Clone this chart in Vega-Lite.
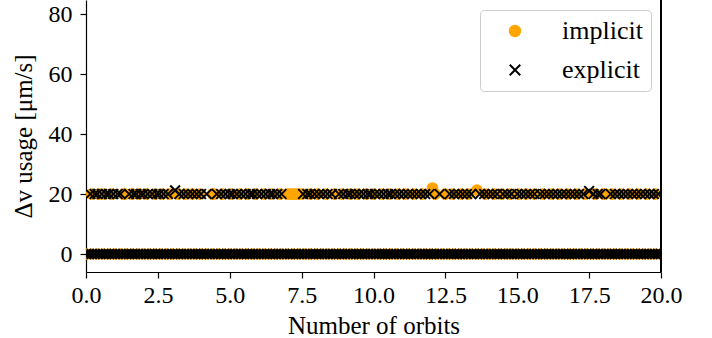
{
"$schema":"https://vega.github.io/schema/vega-lite/v6.json",
"width":575,"height":272,
"autosize":{"type":"none"},
"padding":{"left":86,"top":0,"right":51,"bottom":66},
"background":"white",
"config":{
"view":{"stroke":null},
"font":"Liberation Serif",
"axis":{"grid":false,"domainColor":"#000","domainWidth":1.2,"tickColor":"#000","tickWidth":1.2,"tickSize":6,"labelFont":"Liberation Serif","labelFontSize":24,"labelColor":"#000","titleFont":"Liberation Serif","titleFontSize":25,"titleFontWeight":"normal","titleColor":"#000","labelFlush":false,"labelOverlap":false},
"legend":{"orient":"top-right","offset":10,"padding":8,"strokeColor":"#cccccc","fillColor":"rgba(255,255,255,0.8)","cornerRadius":4,"labelFont":"Liberation Serif","labelFontSize":26,"labelColor":"#000","labelOffset":34,"symbolSize":110,"symbolStrokeWidth":2,"rowPadding":13,"symbolOffset":14,"title":null}
},
"data":{"values":[
{"x":0,"y":0,"s":"implicit"},{"x":0.2,"y":0,"s":"implicit"},{"x":0.4,"y":0,"s":"implicit"},{"x":0.6,"y":0,"s":"implicit"},{"x":0.8,"y":0,"s":"implicit"},{"x":1,"y":0,"s":"implicit"},{"x":1.2,"y":0,"s":"implicit"},{"x":1.4,"y":0,"s":"implicit"},{"x":1.6,"y":0,"s":"implicit"},{"x":1.8,"y":0,"s":"implicit"},
{"x":2,"y":0,"s":"implicit"},{"x":2.2,"y":0,"s":"implicit"},{"x":2.4,"y":0,"s":"implicit"},{"x":2.6,"y":0,"s":"implicit"},{"x":2.8,"y":0,"s":"implicit"},{"x":3,"y":0,"s":"implicit"},{"x":3.2,"y":0,"s":"implicit"},{"x":3.4,"y":0,"s":"implicit"},{"x":3.6,"y":0,"s":"implicit"},{"x":3.8,"y":0,"s":"implicit"},
{"x":4,"y":0,"s":"implicit"},{"x":4.2,"y":0,"s":"implicit"},{"x":4.4,"y":0,"s":"implicit"},{"x":4.6,"y":0,"s":"implicit"},{"x":4.8,"y":0,"s":"implicit"},{"x":5,"y":0,"s":"implicit"},{"x":5.2,"y":0,"s":"implicit"},{"x":5.4,"y":0,"s":"implicit"},{"x":5.6,"y":0,"s":"implicit"},{"x":5.8,"y":0,"s":"implicit"},
{"x":6,"y":0,"s":"implicit"},{"x":6.2,"y":0,"s":"implicit"},{"x":6.4,"y":0,"s":"implicit"},{"x":6.6,"y":0,"s":"implicit"},{"x":6.8,"y":0,"s":"implicit"},{"x":7,"y":0,"s":"implicit"},{"x":7.2,"y":0,"s":"implicit"},{"x":7.4,"y":0,"s":"implicit"},{"x":7.6,"y":0,"s":"implicit"},{"x":7.8,"y":0,"s":"implicit"},
{"x":8,"y":0,"s":"implicit"},{"x":8.2,"y":0,"s":"implicit"},{"x":8.4,"y":0,"s":"implicit"},{"x":8.6,"y":0,"s":"implicit"},{"x":8.8,"y":0,"s":"implicit"},{"x":9,"y":0,"s":"implicit"},{"x":9.2,"y":0,"s":"implicit"},{"x":9.4,"y":0,"s":"implicit"},{"x":9.6,"y":0,"s":"implicit"},{"x":9.8,"y":0,"s":"implicit"},
{"x":10,"y":0,"s":"implicit"},{"x":10.2,"y":0,"s":"implicit"},{"x":10.4,"y":0,"s":"implicit"},{"x":10.6,"y":0,"s":"implicit"},{"x":10.8,"y":0,"s":"implicit"},{"x":11,"y":0,"s":"implicit"},{"x":11.2,"y":0,"s":"implicit"},{"x":11.4,"y":0,"s":"implicit"},{"x":11.6,"y":0,"s":"implicit"},{"x":11.8,"y":0,"s":"implicit"},
{"x":12,"y":0,"s":"implicit"},{"x":12.2,"y":0,"s":"implicit"},{"x":12.4,"y":0,"s":"implicit"},{"x":12.6,"y":0,"s":"implicit"},{"x":12.8,"y":0,"s":"implicit"},{"x":13,"y":0,"s":"implicit"},{"x":13.2,"y":0,"s":"implicit"},{"x":13.4,"y":0,"s":"implicit"},{"x":13.6,"y":0,"s":"implicit"},{"x":13.8,"y":0,"s":"implicit"},
{"x":14,"y":0,"s":"implicit"},{"x":14.2,"y":0,"s":"implicit"},{"x":14.4,"y":0,"s":"implicit"},{"x":14.6,"y":0,"s":"implicit"},{"x":14.8,"y":0,"s":"implicit"},{"x":15,"y":0,"s":"implicit"},{"x":15.2,"y":0,"s":"implicit"},{"x":15.4,"y":0,"s":"implicit"},{"x":15.6,"y":0,"s":"implicit"},{"x":15.8,"y":0,"s":"implicit"},
{"x":16,"y":0,"s":"implicit"},{"x":16.2,"y":0,"s":"implicit"},{"x":16.4,"y":0,"s":"implicit"},{"x":16.6,"y":0,"s":"implicit"},{"x":16.8,"y":0,"s":"implicit"},{"x":17,"y":0,"s":"implicit"},{"x":17.2,"y":0,"s":"implicit"},{"x":17.4,"y":0,"s":"implicit"},{"x":17.6,"y":0,"s":"implicit"},{"x":17.8,"y":0,"s":"implicit"},
{"x":18,"y":0,"s":"implicit"},{"x":18.2,"y":0,"s":"implicit"},{"x":18.4,"y":0,"s":"implicit"},{"x":18.6,"y":0,"s":"implicit"},{"x":18.8,"y":0,"s":"implicit"},{"x":19,"y":0,"s":"implicit"},{"x":19.2,"y":0,"s":"implicit"},{"x":19.4,"y":0,"s":"implicit"},{"x":19.6,"y":0,"s":"implicit"},{"x":19.8,"y":0,"s":"implicit"},{"x":20,"y":0,"s":"implicit"},
{"x":0.2,"y":20,"s":"implicit"},{"x":0.45,"y":20,"s":"implicit"},{"x":0.65,"y":20,"s":"implicit"},{"x":0.9,"y":20,"s":"implicit"},{"x":1.3,"y":20,"s":"implicit"},{"x":1.35,"y":20,"s":"implicit"},{"x":1.6,"y":20,"s":"implicit"},{"x":1.85,"y":20,"s":"implicit"},{"x":2.1,"y":20,"s":"implicit"},{"x":2.4,"y":20,"s":"implicit"},
{"x":2.65,"y":20,"s":"implicit"},{"x":2.9,"y":20,"s":"implicit"},{"x":3.2,"y":20,"s":"implicit"},{"x":3.45,"y":20,"s":"implicit"},{"x":3.7,"y":20,"s":"implicit"},{"x":3.95,"y":20,"s":"implicit"},{"x":4.4,"y":20,"s":"implicit"},{"x":4.45,"y":20,"s":"implicit"},{"x":4.75,"y":20,"s":"implicit"},{"x":5.05,"y":20,"s":"implicit"},
{"x":5.35,"y":20,"s":"implicit"},{"x":5.6,"y":20,"s":"implicit"},{"x":5.9,"y":20,"s":"implicit"},{"x":6.2,"y":20,"s":"implicit"},{"x":6.45,"y":20,"s":"implicit"},{"x":6.75,"y":20,"s":"implicit"},{"x":7.0,"y":20,"s":"implicit"},{"x":7.1,"y":20,"s":"implicit"},{"x":7.2,"y":20,"s":"implicit"},{"x":7.3,"y":20,"s":"implicit"},
{"x":7.4,"y":20,"s":"implicit"},{"x":7.5,"y":20,"s":"implicit"},{"x":7.8,"y":20,"s":"implicit"},{"x":8.05,"y":20,"s":"implicit"},{"x":8.35,"y":20,"s":"implicit"},{"x":8.65,"y":20,"s":"implicit"},{"x":8.9,"y":20,"s":"implicit"},{"x":9.2,"y":20,"s":"implicit"},{"x":9.45,"y":20,"s":"implicit"},{"x":9.75,"y":20,"s":"implicit"},
{"x":10.0,"y":20,"s":"implicit"},{"x":10.3,"y":20,"s":"implicit"},{"x":10.55,"y":20,"s":"implicit"},{"x":10.85,"y":20,"s":"implicit"},{"x":11.1,"y":20,"s":"implicit"},{"x":11.4,"y":20,"s":"implicit"},{"x":11.7,"y":20,"s":"implicit"},{"x":12.05,"y":22,"s":"implicit"},{"x":12.15,"y":20,"s":"implicit"},{"x":12.5,"y":20,"s":"implicit"},
{"x":12.75,"y":20,"s":"implicit"},{"x":13.05,"y":20,"s":"implicit"},{"x":13.3,"y":20,"s":"implicit"},{"x":13.6,"y":21.3,"s":"implicit"},{"x":13.9,"y":20,"s":"implicit"},{"x":14.2,"y":20,"s":"implicit"},{"x":14.45,"y":20,"s":"implicit"},{"x":14.75,"y":20,"s":"implicit"},{"x":15.05,"y":20,"s":"implicit"},{"x":15.3,"y":20,"s":"implicit"},
{"x":15.6,"y":20,"s":"implicit"},{"x":15.9,"y":20,"s":"implicit"},{"x":16.2,"y":20,"s":"implicit"},{"x":16.45,"y":20,"s":"implicit"},{"x":16.75,"y":20,"s":"implicit"},{"x":17.05,"y":20,"s":"implicit"},{"x":17.35,"y":20,"s":"implicit"},{"x":17.7,"y":20,"s":"implicit"},{"x":18.0,"y":20,"s":"implicit"},{"x":18.05,"y":20,"s":"implicit"},
{"x":18.3,"y":20,"s":"implicit"},{"x":18.6,"y":20,"s":"implicit"},{"x":18.9,"y":20,"s":"implicit"},{"x":19.2,"y":20,"s":"implicit"},{"x":19.5,"y":20,"s":"implicit"},{"x":19.8,"y":20,"s":"implicit"},
{"x":0,"y":0,"s":"explicit"},{"x":0.1,"y":0,"s":"explicit"},{"x":0.2,"y":0,"s":"explicit"},{"x":0.3,"y":0,"s":"explicit"},{"x":0.4,"y":0,"s":"explicit"},{"x":0.5,"y":0,"s":"explicit"},{"x":0.6,"y":0,"s":"explicit"},{"x":0.7,"y":0,"s":"explicit"},{"x":0.8,"y":0,"s":"explicit"},{"x":0.9,"y":0,"s":"explicit"},
{"x":1,"y":0,"s":"explicit"},{"x":1.1,"y":0,"s":"explicit"},{"x":1.2,"y":0,"s":"explicit"},{"x":1.3,"y":0,"s":"explicit"},{"x":1.4,"y":0,"s":"explicit"},{"x":1.5,"y":0,"s":"explicit"},{"x":1.6,"y":0,"s":"explicit"},{"x":1.7,"y":0,"s":"explicit"},{"x":1.8,"y":0,"s":"explicit"},{"x":1.9,"y":0,"s":"explicit"},
{"x":2,"y":0,"s":"explicit"},{"x":2.1,"y":0,"s":"explicit"},{"x":2.2,"y":0,"s":"explicit"},{"x":2.3,"y":0,"s":"explicit"},{"x":2.4,"y":0,"s":"explicit"},{"x":2.5,"y":0,"s":"explicit"},{"x":2.6,"y":0,"s":"explicit"},{"x":2.7,"y":0,"s":"explicit"},{"x":2.8,"y":0,"s":"explicit"},{"x":2.9,"y":0,"s":"explicit"},
{"x":3,"y":0,"s":"explicit"},{"x":3.1,"y":0,"s":"explicit"},{"x":3.2,"y":0,"s":"explicit"},{"x":3.3,"y":0,"s":"explicit"},{"x":3.4,"y":0,"s":"explicit"},{"x":3.5,"y":0,"s":"explicit"},{"x":3.6,"y":0,"s":"explicit"},{"x":3.7,"y":0,"s":"explicit"},{"x":3.8,"y":0,"s":"explicit"},{"x":3.9,"y":0,"s":"explicit"},
{"x":4,"y":0,"s":"explicit"},{"x":4.1,"y":0,"s":"explicit"},{"x":4.2,"y":0,"s":"explicit"},{"x":4.3,"y":0,"s":"explicit"},{"x":4.4,"y":0,"s":"explicit"},{"x":4.5,"y":0,"s":"explicit"},{"x":4.6,"y":0,"s":"explicit"},{"x":4.7,"y":0,"s":"explicit"},{"x":4.8,"y":0,"s":"explicit"},{"x":4.9,"y":0,"s":"explicit"},
{"x":5,"y":0,"s":"explicit"},{"x":5.1,"y":0,"s":"explicit"},{"x":5.2,"y":0,"s":"explicit"},{"x":5.3,"y":0,"s":"explicit"},{"x":5.4,"y":0,"s":"explicit"},{"x":5.5,"y":0,"s":"explicit"},{"x":5.6,"y":0,"s":"explicit"},{"x":5.7,"y":0,"s":"explicit"},{"x":5.8,"y":0,"s":"explicit"},{"x":5.9,"y":0,"s":"explicit"},
{"x":6,"y":0,"s":"explicit"},{"x":6.1,"y":0,"s":"explicit"},{"x":6.2,"y":0,"s":"explicit"},{"x":6.3,"y":0,"s":"explicit"},{"x":6.4,"y":0,"s":"explicit"},{"x":6.5,"y":0,"s":"explicit"},{"x":6.6,"y":0,"s":"explicit"},{"x":6.7,"y":0,"s":"explicit"},{"x":6.8,"y":0,"s":"explicit"},{"x":6.9,"y":0,"s":"explicit"},
{"x":7,"y":0,"s":"explicit"},{"x":7.1,"y":0,"s":"explicit"},{"x":7.2,"y":0,"s":"explicit"},{"x":7.3,"y":0,"s":"explicit"},{"x":7.4,"y":0,"s":"explicit"},{"x":7.5,"y":0,"s":"explicit"},{"x":7.6,"y":0,"s":"explicit"},{"x":7.7,"y":0,"s":"explicit"},{"x":7.8,"y":0,"s":"explicit"},{"x":7.9,"y":0,"s":"explicit"},
{"x":8,"y":0,"s":"explicit"},{"x":8.1,"y":0,"s":"explicit"},{"x":8.2,"y":0,"s":"explicit"},{"x":8.3,"y":0,"s":"explicit"},{"x":8.4,"y":0,"s":"explicit"},{"x":8.5,"y":0,"s":"explicit"},{"x":8.6,"y":0,"s":"explicit"},{"x":8.7,"y":0,"s":"explicit"},{"x":8.8,"y":0,"s":"explicit"},{"x":8.9,"y":0,"s":"explicit"},
{"x":9,"y":0,"s":"explicit"},{"x":9.1,"y":0,"s":"explicit"},{"x":9.2,"y":0,"s":"explicit"},{"x":9.3,"y":0,"s":"explicit"},{"x":9.4,"y":0,"s":"explicit"},{"x":9.5,"y":0,"s":"explicit"},{"x":9.6,"y":0,"s":"explicit"},{"x":9.7,"y":0,"s":"explicit"},{"x":9.8,"y":0,"s":"explicit"},{"x":9.9,"y":0,"s":"explicit"},
{"x":10,"y":0,"s":"explicit"},{"x":10.1,"y":0,"s":"explicit"},{"x":10.2,"y":0,"s":"explicit"},{"x":10.3,"y":0,"s":"explicit"},{"x":10.4,"y":0,"s":"explicit"},{"x":10.5,"y":0,"s":"explicit"},{"x":10.6,"y":0,"s":"explicit"},{"x":10.7,"y":0,"s":"explicit"},{"x":10.8,"y":0,"s":"explicit"},{"x":10.9,"y":0,"s":"explicit"},
{"x":11,"y":0,"s":"explicit"},{"x":11.1,"y":0,"s":"explicit"},{"x":11.2,"y":0,"s":"explicit"},{"x":11.3,"y":0,"s":"explicit"},{"x":11.4,"y":0,"s":"explicit"},{"x":11.5,"y":0,"s":"explicit"},{"x":11.6,"y":0,"s":"explicit"},{"x":11.7,"y":0,"s":"explicit"},{"x":11.8,"y":0,"s":"explicit"},{"x":11.9,"y":0,"s":"explicit"},
{"x":12,"y":0,"s":"explicit"},{"x":12.1,"y":0,"s":"explicit"},{"x":12.2,"y":0,"s":"explicit"},{"x":12.3,"y":0,"s":"explicit"},{"x":12.4,"y":0,"s":"explicit"},{"x":12.5,"y":0,"s":"explicit"},{"x":12.6,"y":0,"s":"explicit"},{"x":12.7,"y":0,"s":"explicit"},{"x":12.8,"y":0,"s":"explicit"},{"x":12.9,"y":0,"s":"explicit"},
{"x":13,"y":0,"s":"explicit"},{"x":13.1,"y":0,"s":"explicit"},{"x":13.2,"y":0,"s":"explicit"},{"x":13.3,"y":0,"s":"explicit"},{"x":13.4,"y":0,"s":"explicit"},{"x":13.5,"y":0,"s":"explicit"},{"x":13.6,"y":0,"s":"explicit"},{"x":13.7,"y":0,"s":"explicit"},{"x":13.8,"y":0,"s":"explicit"},{"x":13.9,"y":0,"s":"explicit"},
{"x":14,"y":0,"s":"explicit"},{"x":14.1,"y":0,"s":"explicit"},{"x":14.2,"y":0,"s":"explicit"},{"x":14.3,"y":0,"s":"explicit"},{"x":14.4,"y":0,"s":"explicit"},{"x":14.5,"y":0,"s":"explicit"},{"x":14.6,"y":0,"s":"explicit"},{"x":14.7,"y":0,"s":"explicit"},{"x":14.8,"y":0,"s":"explicit"},{"x":14.9,"y":0,"s":"explicit"},
{"x":15,"y":0,"s":"explicit"},{"x":15.1,"y":0,"s":"explicit"},{"x":15.2,"y":0,"s":"explicit"},{"x":15.3,"y":0,"s":"explicit"},{"x":15.4,"y":0,"s":"explicit"},{"x":15.5,"y":0,"s":"explicit"},{"x":15.6,"y":0,"s":"explicit"},{"x":15.7,"y":0,"s":"explicit"},{"x":15.8,"y":0,"s":"explicit"},{"x":15.9,"y":0,"s":"explicit"},
{"x":16,"y":0,"s":"explicit"},{"x":16.1,"y":0,"s":"explicit"},{"x":16.2,"y":0,"s":"explicit"},{"x":16.3,"y":0,"s":"explicit"},{"x":16.4,"y":0,"s":"explicit"},{"x":16.5,"y":0,"s":"explicit"},{"x":16.6,"y":0,"s":"explicit"},{"x":16.7,"y":0,"s":"explicit"},{"x":16.8,"y":0,"s":"explicit"},{"x":16.9,"y":0,"s":"explicit"},
{"x":17,"y":0,"s":"explicit"},{"x":17.1,"y":0,"s":"explicit"},{"x":17.2,"y":0,"s":"explicit"},{"x":17.3,"y":0,"s":"explicit"},{"x":17.4,"y":0,"s":"explicit"},{"x":17.5,"y":0,"s":"explicit"},{"x":17.6,"y":0,"s":"explicit"},{"x":17.7,"y":0,"s":"explicit"},{"x":17.8,"y":0,"s":"explicit"},{"x":17.9,"y":0,"s":"explicit"},
{"x":18,"y":0,"s":"explicit"},{"x":18.1,"y":0,"s":"explicit"},{"x":18.2,"y":0,"s":"explicit"},{"x":18.3,"y":0,"s":"explicit"},{"x":18.4,"y":0,"s":"explicit"},{"x":18.5,"y":0,"s":"explicit"},{"x":18.6,"y":0,"s":"explicit"},{"x":18.7,"y":0,"s":"explicit"},{"x":18.8,"y":0,"s":"explicit"},{"x":18.9,"y":0,"s":"explicit"},
{"x":19,"y":0,"s":"explicit"},{"x":19.1,"y":0,"s":"explicit"},{"x":19.2,"y":0,"s":"explicit"},{"x":19.3,"y":0,"s":"explicit"},{"x":19.4,"y":0,"s":"explicit"},{"x":19.5,"y":0,"s":"explicit"},{"x":19.6,"y":0,"s":"explicit"},{"x":19.7,"y":0,"s":"explicit"},{"x":19.8,"y":0,"s":"explicit"},{"x":19.9,"y":0,"s":"explicit"},{"x":20,"y":0,"s":"explicit"},
{"x":0.15,"y":20,"s":"explicit"},{"x":0.3,"y":20,"s":"explicit"},{"x":0.4,"y":20,"s":"explicit"},{"x":0.55,"y":20,"s":"explicit"},{"x":0.7,"y":20,"s":"explicit"},{"x":0.8,"y":20,"s":"explicit"},{"x":0.95,"y":20,"s":"explicit"},{"x":1.1,"y":20,"s":"explicit"},{"x":1.2,"y":20,"s":"explicit"},{"x":1.5,"y":20,"s":"explicit"},
{"x":1.65,"y":20,"s":"explicit"},{"x":1.75,"y":20,"s":"explicit"},{"x":1.9,"y":20,"s":"explicit"},{"x":2.0,"y":20,"s":"explicit"},{"x":2.15,"y":20,"s":"explicit"},{"x":2.3,"y":20,"s":"explicit"},{"x":2.45,"y":20,"s":"explicit"},{"x":2.55,"y":20,"s":"explicit"},{"x":2.7,"y":20,"s":"explicit"},{"x":2.85,"y":20,"s":"explicit"},
{"x":3.1,"y":21.2,"s":"explicit"},{"x":3.25,"y":20,"s":"explicit"},{"x":3.4,"y":20,"s":"explicit"},{"x":3.55,"y":20,"s":"explicit"},{"x":3.7,"y":20,"s":"explicit"},{"x":3.85,"y":20,"s":"explicit"},{"x":4.0,"y":20,"s":"explicit"},{"x":4.2,"y":20,"s":"explicit"},{"x":4.55,"y":20,"s":"explicit"},{"x":4.7,"y":20,"s":"explicit"},
{"x":4.85,"y":20,"s":"explicit"},{"x":5.0,"y":20,"s":"explicit"},{"x":5.1,"y":20,"s":"explicit"},{"x":5.25,"y":20,"s":"explicit"},{"x":5.4,"y":20,"s":"explicit"},{"x":5.55,"y":20,"s":"explicit"},{"x":5.7,"y":20,"s":"explicit"},{"x":5.8,"y":20,"s":"explicit"},{"x":5.95,"y":20,"s":"explicit"},{"x":6.1,"y":20,"s":"explicit"},
{"x":6.25,"y":20,"s":"explicit"},{"x":6.4,"y":20,"s":"explicit"},{"x":6.5,"y":20,"s":"explicit"},{"x":6.65,"y":20,"s":"explicit"},{"x":6.8,"y":20,"s":"explicit"},{"x":7.55,"y":20,"s":"explicit"},{"x":7.7,"y":20,"s":"explicit"},{"x":7.8,"y":20,"s":"explicit"},{"x":7.95,"y":20,"s":"explicit"},{"x":8.1,"y":20,"s":"explicit"},
{"x":8.25,"y":20,"s":"explicit"},{"x":8.4,"y":20,"s":"explicit"},{"x":8.55,"y":20,"s":"explicit"},{"x":8.8,"y":20,"s":"explicit"},{"x":8.95,"y":20,"s":"explicit"},{"x":9.1,"y":20,"s":"explicit"},{"x":9.2,"y":20,"s":"explicit"},{"x":9.35,"y":20,"s":"explicit"},{"x":9.5,"y":20,"s":"explicit"},{"x":9.65,"y":20,"s":"explicit"},
{"x":9.8,"y":20,"s":"explicit"},{"x":9.9,"y":20,"s":"explicit"},{"x":10.05,"y":20,"s":"explicit"},{"x":10.2,"y":20,"s":"explicit"},{"x":10.35,"y":20,"s":"explicit"},{"x":10.5,"y":20,"s":"explicit"},{"x":10.6,"y":20,"s":"explicit"},{"x":10.75,"y":20,"s":"explicit"},{"x":10.9,"y":20,"s":"explicit"},{"x":11.05,"y":20,"s":"explicit"},
{"x":11.2,"y":20,"s":"explicit"},{"x":11.35,"y":20,"s":"explicit"},{"x":11.5,"y":20,"s":"explicit"},{"x":11.65,"y":20,"s":"explicit"},{"x":11.8,"y":20,"s":"explicit"},{"x":11.95,"y":20,"s":"explicit"},{"x":12.3,"y":20,"s":"explicit"},{"x":12.65,"y":20,"s":"explicit"},{"x":12.8,"y":20,"s":"explicit"},{"x":12.95,"y":20,"s":"explicit"},
{"x":13.1,"y":20,"s":"explicit"},{"x":13.25,"y":20,"s":"explicit"},{"x":13.4,"y":20,"s":"explicit"},{"x":13.7,"y":20,"s":"explicit"},{"x":13.85,"y":20,"s":"explicit"},{"x":14.0,"y":20,"s":"explicit"},{"x":14.15,"y":20,"s":"explicit"},{"x":14.3,"y":20,"s":"explicit"},{"x":14.5,"y":20,"s":"explicit"},{"x":14.65,"y":20,"s":"explicit"},
{"x":14.8,"y":20,"s":"explicit"},{"x":15.0,"y":20,"s":"explicit"},{"x":15.15,"y":20,"s":"explicit"},{"x":15.3,"y":20,"s":"explicit"},{"x":15.45,"y":20,"s":"explicit"},{"x":15.6,"y":20,"s":"explicit"},{"x":15.8,"y":20,"s":"explicit"},{"x":15.95,"y":20,"s":"explicit"},{"x":16.1,"y":20,"s":"explicit"},{"x":16.25,"y":20,"s":"explicit"},
{"x":16.4,"y":20,"s":"explicit"},{"x":16.55,"y":20,"s":"explicit"},{"x":16.7,"y":20,"s":"explicit"},{"x":16.85,"y":20,"s":"explicit"},{"x":17.0,"y":20,"s":"explicit"},{"x":17.15,"y":20,"s":"explicit"},{"x":17.3,"y":20,"s":"explicit"},{"x":17.5,"y":21.0,"s":"explicit"},{"x":17.65,"y":20,"s":"explicit"},{"x":17.8,"y":20,"s":"explicit"},
{"x":17.9,"y":20,"s":"explicit"},{"x":18.25,"y":20,"s":"explicit"},{"x":18.4,"y":20,"s":"explicit"},{"x":18.55,"y":20,"s":"explicit"},{"x":18.7,"y":20,"s":"explicit"},{"x":18.85,"y":20,"s":"explicit"},{"x":19.0,"y":20,"s":"explicit"},{"x":19.15,"y":20,"s":"explicit"},{"x":19.3,"y":20,"s":"explicit"},{"x":19.45,"y":20,"s":"explicit"},
{"x":19.6,"y":20,"s":"explicit"},{"x":19.75,"y":20,"s":"explicit"},{"x":19.9,"y":20,"s":"explicit"}
]},
"layer":[
{"mark":{"type":"point","size":95,"strokeWidth":2,"opacity":1,"clip":true},
"encoding":{
"x":{"field":"x","type":"quantitative","scale":{"domain":[0,20],"nice":false,"zero":false},"axis":{"title":"Number of orbits","values":[0,2.5,5,7.5,10,12.5,15,17.5,20],"format":".1f","labelPadding":5,"titlePadding":6}},
"y":{"field":"y","type":"quantitative","scale":{"domain":[-6,84.67],"nice":false,"zero":false},"axis":{"title":"Δv usage [μm/s]","values":[0,20,40,60,80],"format":"d","labelPadding":8,"titlePadding":12}},
"fill":{"field":"s","type":"nominal","scale":{"domain":["implicit","explicit"],"range":["#ffa500","transparent"]},"legend":{"title":null}},
"stroke":{"field":"s","type":"nominal","scale":{"domain":["implicit","explicit"],"range":["#ffa500","#000000"]},"legend":{"title":null}},
"shape":{"field":"s","type":"nominal","scale":{"domain":["implicit","explicit"],"range":["circle","M-1,-1L1,1M-1,1L1,-1"]},"legend":{"title":null}}
}},
{"mark":{"type":"rule","color":"#000","strokeWidth":1.2},
"encoding":{"x":{"datum":20,"type":"quantitative","axis":{"title":"Number of orbits","values":[0,2.5,5,7.5,10,12.5,15,17.5,20],"format":".1f","labelPadding":5,"titlePadding":6}}}}
]
}
